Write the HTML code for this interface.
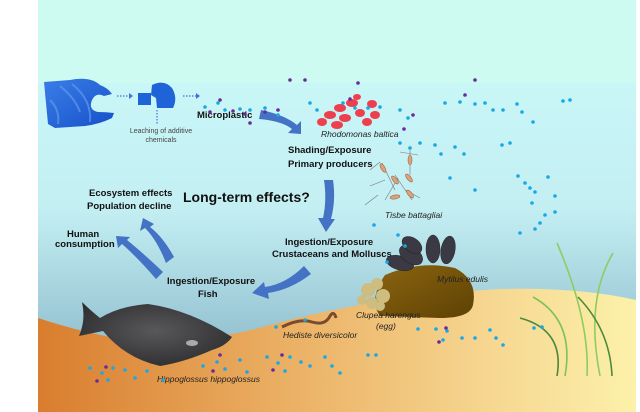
<!DOCTYPE html>
<html><head><meta charset="utf-8"><style>
html,body{margin:0;padding:0;background:#fff;}
svg{display:block;}
text{font-family:"Liberation Sans",sans-serif;}
.b{font-weight:bold;font-size:9.5px;fill:#111;}
.i{font-style:italic;font-size:8.5px;fill:#222;}
</style></head><body>
<svg width="640" height="412" viewBox="0 0 640 412" xmlns="http://www.w3.org/2000/svg">
<defs>
<linearGradient id="w" x1="0" y1="0" x2="0" y2="1">
<stop offset="0" stop-color="#c9f6f7"/><stop offset="0.45" stop-color="#c3eff3"/><stop offset="1" stop-color="#8dbacb"/></linearGradient>
<linearGradient id="s" x1="0" y1="0" x2="1" y2="0">
<stop offset="0" stop-color="#d97d2e"/><stop offset="0.4" stop-color="#eaae62"/><stop offset="0.75" stop-color="#f6d690"/><stop offset="1" stop-color="#fcf1aa"/></linearGradient>
<linearGradient id="r" x1="0" y1="0" x2="1" y2="1">
<stop offset="0" stop-color="#8a6410"/><stop offset="1" stop-color="#5e4204"/></linearGradient>
<radialGradient id="f" cx="0.5" cy="0.45" r="0.6"><stop offset="0" stop-color="#58585a"/><stop offset="1" stop-color="#2e2e30"/></radialGradient>
<linearGradient id="bg" x1="0" y1="0" x2="1" y2="1"><stop offset="0" stop-color="#3a7ee8"/><stop offset="1" stop-color="#1550c8"/></linearGradient>
</defs>
<rect x="38" y="0" width="598" height="83" fill="#cdfbf1"/>
<rect x="38" y="83" width="598" height="280" fill="url(#w)"/>
<path d="M38,318 Q90,335 130,340 Q200,345 270,325 Q380,295 500,289 Q580,287 636,300 L636,412 L38,412 Z" fill="url(#s)"/>
<!-- bag -->
<path d="M44,82 L70,80 Q90,76 100,85 Q108,88 112,94 L104,96 Q96,92 92,100 Q88,110 98,112 Q106,112 114,113 L112,118 Q100,124 85,126 L55,128 L48,124 Z" fill="url(#bg)"/>
<path d="M60,86 Q75,98 80,112 M72,84 Q92,100 90,122 M50,100 Q60,110 58,124" stroke="#6aa0f0" stroke-width="2" fill="none" opacity="0.6"/>
<!-- small plastic -->
<path d="M152,85 Q164,79 172,88 Q178,98 173,108 L157,108 L156,98 L151,95 Z" fill="#1f63d8"/>
<rect x="138" y="93" width="13" height="12" fill="#1f63d8"/>
<g stroke="#4a6ed8" stroke-width="1.2" stroke-dasharray="1.5,1.5"><line x1="117" y1="96" x2="129" y2="96"/><line x1="183" y1="96" x2="196" y2="96"/><line x1="157" y1="110" x2="157" y2="124"/></g>
<path d="M129,93 L133,96 L129,99 Z M196,93 L200,96 L196,99 Z" fill="#4a6ed8"/>
<text x="161" y="133" font-size="7" fill="#444" text-anchor="middle">Leaching of additive</text>
<text x="161" y="142" font-size="7" fill="#444" text-anchor="middle">chemicals</text>
<text x="197" y="118" class="b" font-size="11">Microplastic</text>
<text x="183" y="202" font-weight="bold" font-size="14" fill="#111">Long-term effects?</text>
<!-- arrows -->
<g fill="#4472c4">
<path d="M261,110 Q285,115 297,125 L301,121 L301,134 L288,133 L292,129 Q282,121 259,119 Z"/>
<path d="M324,180 L333,180 Q336,200 331,219 L335,219 L326,232 L318,218 L323,218 Q327,200 324,180 Z"/>
<path d="M304,266 L311,274 Q290,290 268,293 L269,299 L252,293 L264,282 L265,287 Q286,284 304,266 Z"/>
<path d="M166,263 L174,257 Q163,237 150,227 L154,224 L143,218 L140,231 L145,228 Q157,240 166,263 Z"/>
<path d="M156,279 L163,272 Q143,253 127,240 L130,237 L116,236 L118,248 L122,244 Q138,258 156,279 Z"/>
</g>
<text x="89" y="196" class="b">Ecosystem effects</text>
<text x="87" y="209" class="b">Population decline</text>
<text x="67" y="237" class="b">Human</text>
<text x="55" y="247" class="b">consumption</text>
<text x="288" y="153" class="b">Shading/Exposure</text>
<text x="288" y="167" class="b">Primary producers</text>
<text x="285" y="245" class="b">Ingestion/Exposure</text>
<text x="272" y="257" class="b">Crustaceans and Molluscs</text>
<text x="167" y="284" class="b">Ingestion/Exposure</text>
<text x="198" y="297" class="b">Fish</text>
<!-- red algae -->
<g fill="#ee3f4f">
<ellipse cx="330" cy="115" rx="6" ry="4"/><ellipse cx="340" cy="108" rx="6" ry="4"/><ellipse cx="352" cy="103" rx="6" ry="4"/><ellipse cx="345" cy="118" rx="6" ry="4"/><ellipse cx="360" cy="113" rx="5" ry="4"/><ellipse cx="372" cy="104" rx="5" ry="4"/><ellipse cx="375" cy="115" rx="5" ry="4"/><ellipse cx="367" cy="122" rx="5" ry="4"/><ellipse cx="337" cy="125" rx="6" ry="4"/><ellipse cx="322" cy="122" rx="5" ry="4"/><ellipse cx="357" cy="97" rx="4" ry="3"/>
</g>
<text x="321" y="137" class="i">Rhodomonas  baltica</text>
<!-- copepods -->
<g stroke="#777" stroke-width="0.6" fill="none">
<path d="M400,152 L418,155 M380,162 L370,170 M385,180 L370,186 M395,175 L412,200 M378,195 L365,205 M405,190 L420,198"/>
<path d="M410,150 L410,175 M382,163 L395,190 M398,178 L385,200"/>
</g>
<g fill="#e0a07a" stroke="#8a6040" stroke-width="0.5">
<ellipse cx="410" cy="160" rx="2" ry="5"/><ellipse cx="383" cy="168" rx="2" ry="5" transform="rotate(-30 383 168)"/><ellipse cx="395" cy="180" rx="2" ry="5" transform="rotate(-40 395 180)"/><ellipse cx="409" cy="178" rx="2" ry="5" transform="rotate(-40 409 178)"/><ellipse cx="395" cy="197" rx="2" ry="5" transform="rotate(80 395 197)"/><ellipse cx="410" cy="194" rx="2" ry="5" transform="rotate(-40 410 194)"/>
</g>
<text x="385" y="218" class="i">Tisbe battagliai</text>
<!-- rock, mussels -->
<path d="M385,275 Q420,260 455,268 Q478,280 473,305 Q470,318 440,318 L380,316 Q368,300 385,275 Z" fill="url(#r)"/>
<g fill="#3b3a44" stroke="#222" stroke-width="0.5">
<ellipse cx="400" cy="263" rx="14" ry="7" transform="rotate(15 400 263)"/><ellipse cx="411" cy="255" rx="13" ry="8" transform="rotate(35 411 255)"/><ellipse cx="412" cy="245" rx="11" ry="7" transform="rotate(35 412 245)"/><ellipse cx="433" cy="249" rx="7" ry="14"/><ellipse cx="448" cy="250" rx="7" ry="14" transform="rotate(10 448 250)"/>
</g>
<g fill="#cdbd80"><circle cx="368" cy="290" r="7"/><circle cx="377" cy="284" r="6"/><circle cx="383" cy="296" r="7"/><circle cx="372" cy="303" r="6"/><circle cx="362" cy="300" r="5"/><circle cx="380" cy="306" r="5"/></g>
<text x="437" y="282" class="i">Mytilus edulis</text>
<text x="356" y="318" class="i">Clupea harengus</text>
<text x="376" y="329" class="i">(egg)</text>
<!-- worm -->
<path d="M282,327 Q300,318 312,322 Q325,326 330,316 Q334,310 336,318" stroke="#7a4a30" stroke-width="3" fill="none"/>
<text x="283" y="338" class="i">Hediste diversicolor</text>
<!-- fish -->
<path d="M82,302 Q90,310 100,318 Q120,306 148,304 Q190,310 232,337 Q226,346 212,350 Q185,362 160,366 Q125,358 103,331 L79,336 Q86,320 82,302 Z" fill="url(#f)"/>
<ellipse cx="192" cy="343" rx="6" ry="3" fill="#aaa"/>
<text x="157" y="382" class="i">Hippoglossus hippoglossus</text>
<!-- seagrass -->
<g fill="none" stroke-width="1.6">
<path d="M557,376 Q565,330 520,318" stroke="#4a8a3a"/>
<path d="M565,376 Q575,320 533,297" stroke="#7cc25a"/>
<path d="M587,376 Q590,320 557,243" stroke="#8fcc60"/>
<path d="M600,376 Q585,300 613,253" stroke="#8fcc60"/>
<path d="M612,376 Q610,330 578,297" stroke="#4a8a3a"/>
</g>
<!-- dots -->
<g fill="#18a8e6">
<circle cx="205" cy="107" r="1.8"/><circle cx="218" cy="103" r="1.8"/><circle cx="225" cy="110" r="1.8"/><circle cx="240" cy="109" r="1.8"/><circle cx="250" cy="110" r="1.8"/><circle cx="265" cy="108" r="1.8"/><circle cx="278" cy="115" r="1.8"/><circle cx="310" cy="103" r="1.8"/><circle cx="317" cy="110" r="1.8"/><circle cx="343" cy="103" r="1.8"/><circle cx="355" cy="108" r="1.8"/><circle cx="368" cy="108" r="1.8"/><circle cx="380" cy="107" r="1.8"/><circle cx="400" cy="110" r="1.8"/><circle cx="408" cy="118" r="1.8"/><circle cx="400" cy="143" r="1.8"/><circle cx="410" cy="148" r="1.8"/><circle cx="420" cy="143" r="1.8"/><circle cx="435" cy="145" r="1.8"/><circle cx="441" cy="154" r="1.8"/><circle cx="455" cy="147" r="1.8"/><circle cx="464" cy="154" r="1.8"/><circle cx="450" cy="178" r="1.8"/><circle cx="475" cy="190" r="1.8"/><circle cx="445" cy="103" r="1.8"/><circle cx="460" cy="102" r="1.8"/><circle cx="475" cy="104" r="1.8"/><circle cx="485" cy="103" r="1.8"/><circle cx="493" cy="110" r="1.8"/><circle cx="503" cy="110" r="1.8"/><circle cx="517" cy="104" r="1.8"/><circle cx="522" cy="112" r="1.8"/><circle cx="533" cy="122" r="1.8"/><circle cx="502" cy="145" r="1.8"/><circle cx="510" cy="143" r="1.8"/><circle cx="563" cy="101" r="1.8"/><circle cx="570" cy="100" r="1.8"/><circle cx="518" cy="176" r="1.8"/><circle cx="525" cy="183" r="1.8"/><circle cx="530" cy="188" r="1.8"/><circle cx="535" cy="192" r="1.8"/><circle cx="548" cy="177" r="1.8"/><circle cx="555" cy="196" r="1.8"/><circle cx="532" cy="203" r="1.8"/><circle cx="545" cy="215" r="1.8"/><circle cx="555" cy="212" r="1.8"/><circle cx="540" cy="223" r="1.8"/><circle cx="520" cy="233" r="1.8"/><circle cx="535" cy="229" r="1.8"/><circle cx="374" cy="225" r="1.8"/><circle cx="398" cy="235" r="1.8"/><circle cx="405" cy="246" r="1.8"/><circle cx="387" cy="262" r="1.8"/><circle cx="418" cy="329" r="1.8"/><circle cx="436" cy="329" r="1.8"/><circle cx="447" cy="331" r="1.8"/><circle cx="462" cy="338" r="1.8"/><circle cx="475" cy="338" r="1.8"/><circle cx="490" cy="330" r="1.8"/><circle cx="496" cy="338" r="1.8"/><circle cx="503" cy="345" r="1.8"/><circle cx="443" cy="340" r="1.8"/><circle cx="534" cy="328" r="1.8"/><circle cx="542" cy="327" r="1.8"/><circle cx="368" cy="355" r="1.8"/><circle cx="376" cy="355" r="1.8"/><circle cx="276" cy="327" r="1.8"/><circle cx="305" cy="320" r="1.8"/><circle cx="90" cy="368" r="1.8"/><circle cx="102" cy="373" r="1.8"/><circle cx="113" cy="368" r="1.8"/><circle cx="125" cy="370" r="1.8"/><circle cx="135" cy="378" r="1.8"/><circle cx="147" cy="371" r="1.8"/><circle cx="108" cy="380" r="1.8"/><circle cx="163" cy="380" r="1.8"/><circle cx="203" cy="366" r="1.8"/><circle cx="217" cy="362" r="1.8"/><circle cx="225" cy="369" r="1.8"/><circle cx="240" cy="360" r="1.8"/><circle cx="247" cy="372" r="1.8"/><circle cx="267" cy="357" r="1.8"/><circle cx="278" cy="363" r="1.8"/><circle cx="290" cy="357" r="1.8"/><circle cx="301" cy="362" r="1.8"/><circle cx="310" cy="366" r="1.8"/><circle cx="325" cy="357" r="1.8"/><circle cx="332" cy="366" r="1.8"/><circle cx="340" cy="373" r="1.8"/><circle cx="285" cy="371" r="1.8"/>
</g>
<g fill="#6a2a9a">
<circle cx="210" cy="112" r="1.8"/><circle cx="220" cy="100" r="1.8"/><circle cx="233" cy="111" r="1.8"/><circle cx="245" cy="114" r="1.8"/><circle cx="250" cy="123" r="1.8"/><circle cx="265" cy="112" r="1.8"/><circle cx="278" cy="110" r="1.8"/><circle cx="290" cy="80" r="1.8"/><circle cx="305" cy="80" r="1.8"/><circle cx="358" cy="83" r="1.8"/><circle cx="350" cy="99" r="1.8"/><circle cx="413" cy="115" r="1.8"/><circle cx="404" cy="129" r="1.8"/><circle cx="475" cy="80" r="1.8"/><circle cx="465" cy="95" r="1.8"/><circle cx="106" cy="367" r="1.8"/><circle cx="97" cy="381" r="1.8"/><circle cx="220" cy="355" r="1.8"/><circle cx="213" cy="371" r="1.8"/><circle cx="282" cy="355" r="1.8"/><circle cx="273" cy="370" r="1.8"/><circle cx="446" cy="328" r="1.8"/><circle cx="439" cy="342" r="1.8"/>
</g>
</svg>
</body></html>
